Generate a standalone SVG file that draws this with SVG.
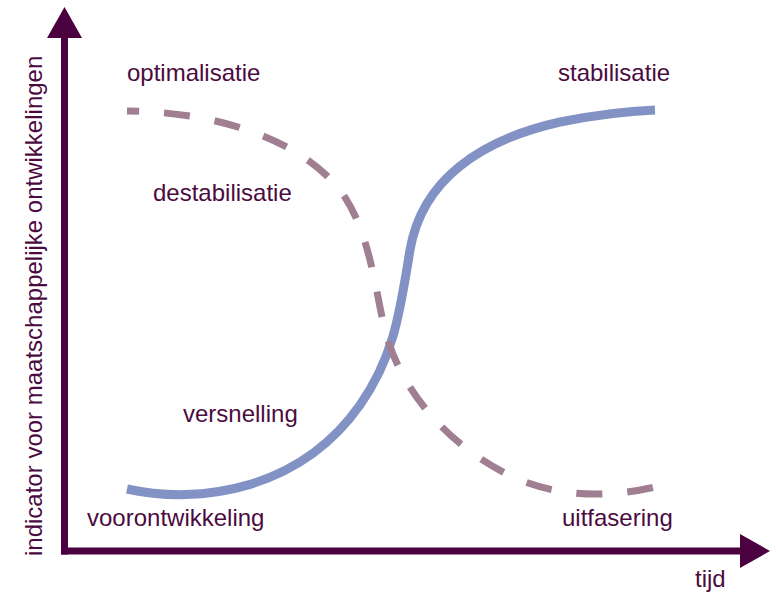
<svg xmlns="http://www.w3.org/2000/svg" width="778" height="594" viewBox="0 0 778 594">
  <style>
    .lbl { font-family: "Liberation Sans", Arial, sans-serif; font-size: 24px; fill: #4B0B3F; }
    .axis { stroke: #4B0040; stroke-width: 7; fill: none; }
    .head { fill: #4B0040; }
  </style>
  <rect width="778" height="594" fill="#ffffff"/>
  <g id="curves">
    <path id="s-curve" d="M127,489 C200,505 300,490 360,405 C395,355 400,310 410,250 C422,180 480,140 560,122 C600,114 630,111 655,110" fill="none" stroke="#8392C4" stroke-width="9"/>
    <path id="decline-curve" d="M127,111 C220,112 300,140 340,190 C370,230 375,290 385,330 C400,390 450,450 520,480 C570,500 620,495 655,487" fill="none" stroke="#A17F92" stroke-width="7" stroke-dasharray="26 25" stroke-dashoffset="14"/>
  </g>
  <g id="axes">
    <line class="axis" x1="64.5" y1="34" x2="64.5" y2="554.5"/>
    <line class="axis" x1="61" y1="551" x2="742" y2="551"/>
    <polygon class="head" points="64.5,7 47,38 82,38"/>
    <polygon class="head" points="770,551 740,534 740,568"/>
  </g>
  <g id="labels">
    <text class="lbl" x="127" y="81">optimalisatie</text>
    <text class="lbl" x="558" y="81">stabilisatie</text>
    <text class="lbl" x="153" y="201">destabilisatie</text>
    <text class="lbl" x="183" y="422">versnelling</text>
    <text class="lbl" x="87" y="526">voorontwikkeling</text>
    <text class="lbl" x="562" y="526">uitfasering</text>
    <text class="lbl" x="695" y="587">tijd</text>
    <text class="lbl" transform="translate(42,556) rotate(-90)">indicator voor maatschappelijke ontwikkelingen</text>
  </g>
</svg>
